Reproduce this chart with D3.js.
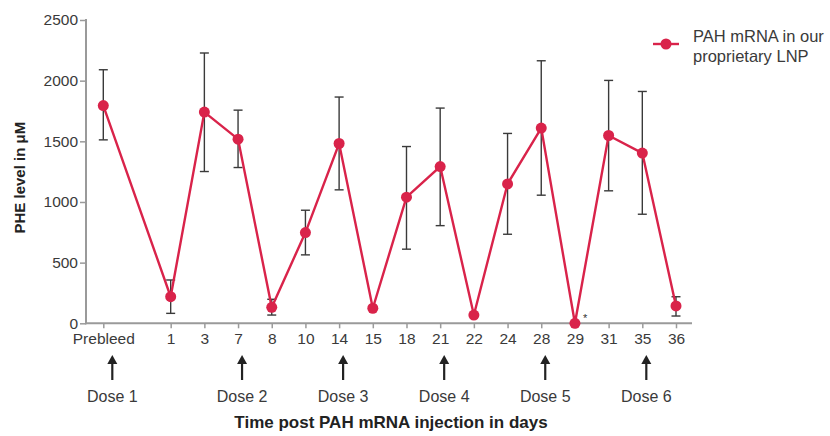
<!DOCTYPE html>
<html>
<head>
<meta charset="utf-8">
<script src="https://cdn.jsdelivr.net/npm/d3@7"></script>
<style>
  html, body { margin: 0; padding: 0; background: #fff; }
  svg { display: block; font-family: "Liberation Sans", Arial, Helvetica, sans-serif; }
</style>
</head>
<body>
<svg id="chart" width="830" height="436"></svg>
<script>
// ---- data ----
const categories = ["Prebleed","1","3","7","8","10","14","15","18","21","22","24","28","29","31","35","36"];
const means      = [1795, 219, 1741, 1518, 132, 748, 1482, 124, 1040, 1292, 68, 1149, 1609, 0, 1548, 1403, 143];
const errUpper   = [2090, 357, 2228, 1757, 198, 932, 1865, null, 1457, 1774, null, 1565, 2164, null, 2002, 1911, 219];
const errLower   = [1512, 82, 1251, 1284, 68, 564, 1100, null, 611, 805, null, 734, 1056, null, 1092, 899, 60];
const doseDays   = ["Prebleed","7","14","21","28","35"];
const doseLabels = ["Dose 1","Dose 2","Dose 3","Dose 4","Dose 5","Dose 6"];
const yTicks     = [0, 500, 1000, 1500, 2000, 2500];
const starDays   = ["29"];
const seriesName = ["PAH mRNA in our", "proprietary LNP"];
const yTitle = "PHE level in μM";
const xTitle = "Time post PAH mRNA injection in days";

// ---- layout ----
const svg = d3.select("#chart");
const red = "#d9234a";
const axisGrey = "#9a9a9a";
const textCol = "#3a3a3a";

// slot domain with a gap after Prebleed
const slots = [categories[0], "__gap__", ...categories.slice(1)];
const x = d3.scalePoint().domain(slots).range([103.3, 676]);
const y = d3.scaleLinear().domain([0, 2500]).range([323.3, 20]);

// y axis
const yAxis = svg.append("g").attr("transform", "translate(86,0)")
  .call(d3.axisLeft(y).tickValues(yTicks).tickSize(6).tickPadding(2).tickFormat(d3.format("d")));
yAxis.select(".domain").attr("stroke", axisGrey).attr("stroke-width", 2)
  .attr("d", `M0,${y(0)+1}V${y(2500)-1}`);
yAxis.selectAll(".tick line").attr("stroke", axisGrey).attr("stroke-width", 1.5);
yAxis.selectAll(".tick text").attr("fill", textCol).style("font-size", "15.5px");

// x axis
const xAxis = svg.append("g").attr("transform", `translate(0,${y(0)})`)
  .call(d3.axisBottom(x).tickValues(categories).tickSize(5).tickPadding(5));
xAxis.select(".domain").attr("stroke", axisGrey).attr("stroke-width", 2)
  .attr("d", `M85,0H692`);
xAxis.selectAll(".tick line").attr("stroke", axisGrey).attr("stroke-width", 1.5);
xAxis.selectAll(".tick text").attr("fill", textCol).style("font-size", "15.5px");

// axis titles
svg.append("text")
  .attr("transform", `translate(25,${(y(0)+y(2500))/2+6}) rotate(-90)`)
  .attr("text-anchor", "middle").attr("font-weight", "bold")
  .style("font-size", "15px").attr("fill", "#222").text(yTitle);
svg.append("text")
  .attr("x", 391).attr("y", 428).attr("text-anchor", "middle").attr("font-weight", "bold")
  .style("font-size", "17px").attr("fill", "#222").text(xTitle);

// error bars
const rows = categories.map((c, i) => ({c, m: means[i], hi: errUpper[i], lo: errLower[i]}));
const eb = svg.append("g").attr("stroke", "#3a3a3a").attr("stroke-width", 1.4);
rows.filter(d => d.hi != null).forEach(d => {
  const cx = x(d.c);
  eb.append("line").attr("x1", cx).attr("x2", cx).attr("y1", y(d.hi)).attr("y2", y(d.lo));
  eb.append("line").attr("x1", cx-4.5).attr("x2", cx+4.5).attr("y1", y(d.hi)).attr("y2", y(d.hi));
  eb.append("line").attr("x1", cx-4.5).attr("x2", cx+4.5).attr("y1", y(d.lo)).attr("y2", y(d.lo));
});

// line
const line = d3.line().x(d => x(d.c)).y(d => y(d.m));
svg.append("path").datum(rows).attr("d", line)
  .attr("fill", "none").attr("stroke", red).attr("stroke-width", 2.4).attr("stroke-linejoin", "miter");
svg.append("g").selectAll("circle").data(rows).join("circle")
  .attr("cx", d => x(d.c)).attr("cy", d => y(d.m)).attr("r", 5.5).attr("fill", red);

// asterisk
svg.append("g").selectAll("text").data(starDays).join("text")
  .attr("x", d => x(d) + 8).attr("y", y(0) - 1).style("font-size", "11px").attr("fill", "#333").text("*");

// dose arrows
const doses = doseDays.map((d, i) => ({d, label: doseLabels[i], off: i === 0 ? 9 : 4}));
const dg = svg.append("g");
doses.forEach(o => {
  const ax = x(o.d) + o.off;
  dg.append("line").attr("x1", ax).attr("x2", ax).attr("y1", 362).attr("y2", 380)
    .attr("stroke", "#222").attr("stroke-width", 2.2);
  dg.append("path").attr("d", `M${ax-5},${364}L${ax},${355}L${ax+5},${364}Z`).attr("fill", "#222");
  dg.append("text").attr("x", ax).attr("y", 401.5).attr("text-anchor", "middle")
    .style("font-size", "16px").attr("fill", textCol).text(o.label);
});

// legend
const lg = svg.append("g");
lg.append("line").attr("x1", 653).attr("x2", 679).attr("y1", 44).attr("y2", 44)
  .attr("stroke", red).attr("stroke-width", 2.4);
lg.append("circle").attr("cx", 666).attr("cy", 44).attr("r", 5.5).attr("fill", red);
lg.selectAll("text").data(seriesName).join("text")
  .attr("x", 693).attr("y", (d, i) => 42 + i * 20)
  .style("font-size", "16.5px").attr("fill", textCol).text(d => d);
</script>
</body>
</html>
